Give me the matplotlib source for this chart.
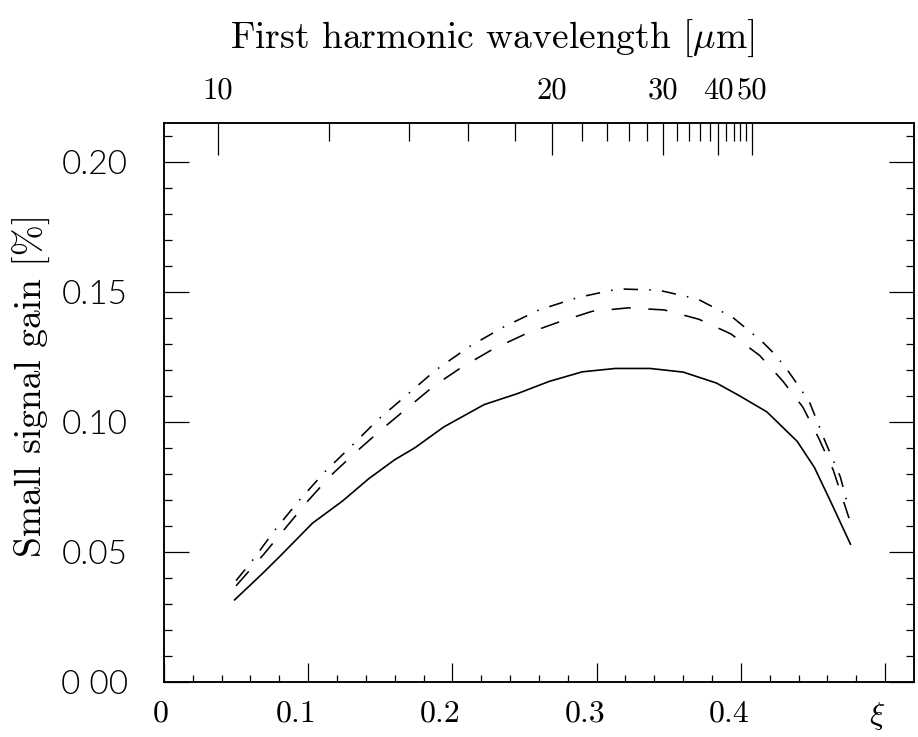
# Small signal gain vs xi, with first harmonic wavelength on top axis
import matplotlib
matplotlib.use("Agg")
import matplotlib.pyplot as plt
from matplotlib.transforms import ScaledTranslation

# solid curve
xi_solid = [0.049, 0.069, 0.081, 0.103, 0.124, 0.142, 0.160, 0.174, 0.194, 0.222,
            0.245, 0.267, 0.290, 0.313, 0.337, 0.360, 0.383, 0.399, 0.418, 0.439,
            0.451, 0.463, 0.476]
gain_solid = [0.0316, 0.0421, 0.0487, 0.0611, 0.0697, 0.0782, 0.0855, 0.0901, 0.0981, 0.1067,
              0.1109, 0.1156, 0.1193, 0.1206, 0.1206, 0.1192, 0.1150, 0.1101, 0.1039, 0.0926,
              0.0825, 0.0685, 0.0530]

# dashed curve
xi_dash = [0.050, 0.069, 0.100, 0.116, 0.133, 0.151, 0.169, 0.187, 0.206, 0.228,
           0.250, 0.274, 0.297, 0.322, 0.347, 0.371, 0.393, 0.413, 0.429, 0.443,
           0.454, 0.464, 0.475]
gain_dash = [0.0370, 0.0490, 0.0698, 0.0796, 0.0884, 0.0972, 0.1055, 0.1138, 0.1209, 0.1280,
             0.1337, 0.1385, 0.1426, 0.1439, 0.1431, 0.1395, 0.1339, 0.1256, 0.1158, 0.1057,
             0.0937, 0.0816, 0.0630]

# dash-dot curve
xi_dashdot = [0.050, 0.061, 0.077, 0.094, 0.112, 0.131, 0.148, 0.168, 0.188, 0.212,
              0.235, 0.260, 0.287, 0.315, 0.343, 0.370, 0.394, 0.415, 0.424, 0.433,
              0.441, 0.448, 0.458, 0.469, 0.475]
gain_dashdot = [0.0390, 0.0465, 0.0585, 0.0700, 0.0811, 0.0913, 0.1007, 0.1102, 0.1198, 0.1291,
                0.1364, 0.1431, 0.1479, 0.1512, 0.1507, 0.1473, 0.1404, 0.1308, 0.1258, 0.1194,
                0.1131, 0.1071, 0.0931, 0.0788, 0.0661]

# axis ticks
x_major = [0.0, 0.1, 0.2, 0.3, 0.4, 0.5]
x_labels = ['0', '0.1', '0.2', '0.3', '0.4', r'$\xi$']
x_minor = [i * 0.02 for i in range(26)]
y_major = [0.0, 0.05, 0.10, 0.15, 0.20]
y_labels = ['0 00', '0.05', '0.10', '0.15', '0.20']
y_minor = [i * 0.01 for i in range(22)]

# top axis: wavelength = lam0 / (1 - 2 xi)
lam0 = 9.25
lam_major = [10, 20, 30, 40, 50]
lam_labels = ['10', '20', '30', '40', '50']
lam_minor = [12, 14, 16, 18, 22, 24, 26, 28, 32, 34, 36, 38, 42, 44, 46, 48]


def lam_to_xi(lam):
    return (1 - lam0 / lam) / 2


plt.rcParams['font.family'] = 'cmr10'
plt.rcParams['mathtext.fontset'] = 'cm'
plt.rcParams['axes.unicode_minus'] = False

fig = plt.figure(figsize=(9.18, 7.37), dpi=100)
ax = fig.add_axes([0.1786, 0.0746, 0.817, 0.7585])

ax.plot(xi_solid, gain_solid, color='black', lw=1.2)
ax.plot(xi_dash, gain_dash, color='black', lw=1.15, dashes=(12, 11))
ax.plot(xi_dashdot, gain_dashdot, color='black', lw=1.15, dashes=(9, 7, 1, 7))

ax.set_xlim(0, 0.52)
ax.set_ylim(0, 0.215)

# top axis
ax2 = ax.twiny()
ax2.set_xlim(ax.get_xlim())
ax2.set_xticks([lam_to_xi(l) for l in lam_major])
ax2.set_xticklabels(lam_labels)
ax2.set_xticks([lam_to_xi(l) for l in lam_minor], minor=True)
ax2.tick_params(which='major', direction='in', length=23, width=0.9, pad=13, labelsize=22)
ax2.tick_params(which='minor', direction='in', length=13, width=0.9)

ax.set_xticks(x_major)
ax.set_xticklabels(x_labels)
ax.set_xticks(x_minor, minor=True)
ax.set_yticks(y_major)
ax.set_yticklabels(y_labels)
ax.set_yticks(y_minor, minor=True)

ax.tick_params(which='both', direction='in', top=False, right=True)
ax.tick_params(axis='x', which='major', length=14, width=0.9, pad=13, labelsize=23)
ax.tick_params(axis='x', which='minor', length=5, width=0.9)
ax.tick_params(axis='y', which='major', length=18, width=0.9, pad=26, labelsize=24)
ax.tick_params(axis='y', which='minor', length=6, width=0.9)

for lab in ax.get_yticklabels():
    lab.set_fontfamily('Lato')
    lab.set_fontweight(300)

# bottom labels sit a bit left of their ticks in the original
for lab, dx in zip(ax.get_xticklabels(), [-3, -12, -12, -12, -12, -8]):
    lab.set_transform(lab.get_transform() + ScaledTranslation(dx / 100, 0, fig.dpi_scale_trans))

for sp in list(ax.spines.values()) + list(ax2.spines.values()):
    sp.set_linewidth(1.1)

ax.set_ylabel('Small signal gain [%]', fontsize=27)
ax.yaxis.set_label_coords(-0.15, 0.53)

fig.text(0.536, 0.948, r'First harmonic wavelength [$\mu$m]', ha='center', va='center', fontsize=27)

fig.savefig('out.png', dpi=100)
